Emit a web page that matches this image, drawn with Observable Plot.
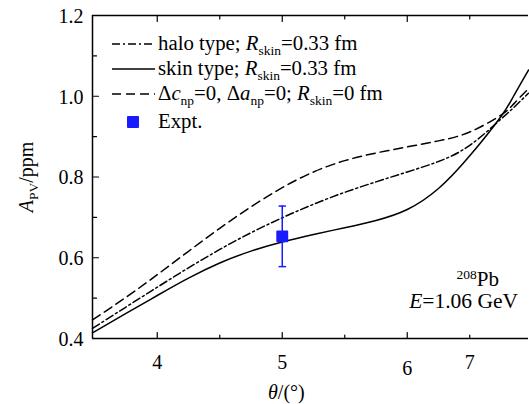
<!DOCTYPE html>
<html><head><meta charset="utf-8">
<script src="https://cdn.jsdelivr.net/npm/d3@7"></script>
<script src="https://cdn.jsdelivr.net/npm/@observablehq/plot@0.6"></script>
<style>body{margin:0;background:#fff}#chart{width:529px;height:404px}</style>
</head><body><div id="chart"></div>
<script>
// ---- data ----
const theta  = [3.482, 3.75, 4.0, 4.25, 4.5, 4.75, 5.0, 5.25, 5.5, 5.75, 6.0, 6.25, 6.5, 6.75, 6.85, 6.97];
const skin   = [0.414, 0.462, 0.5065, 0.5495, 0.587, 0.6165, 0.639, 0.6575, 0.6745, 0.6925, 0.7195, 0.7715, 0.8525, 0.950, 1.000, 1.065];
const halo   = [0.425, 0.478, 0.527, 0.575, 0.6205, 0.662, 0.699, 0.7325, 0.762, 0.788, 0.8125, 0.8385, 0.8785, 0.9435, 0.9715, 1.0075];
const noSkin = [0.446, 0.502, 0.558, 0.616, 0.673, 0.726, 0.7735, 0.8125, 0.8405, 0.8595, 0.8745, 0.8895, 0.9115, 0.9535, 0.9805, 1.019];
const exptTheta = [5.0];
const exptValue = [0.653];
const exptError = [0.075];
const xDomain = [3.482, 6.97];
const yDomain = [0.4, 1.2];
const xMajor = [4, 5, 6];
const xMinor = [4.5, 5.5, 6.5];
const xTickPos = [4, 5, 6, 6.5];
const xTickLabels = ["4", "5", "6", "7"];
const yMajor = [0.4, 0.6, 0.8, 1.0, 1.2];
const yMinor = [0.5, 0.7, 0.9, 1.1];
const legendLabels = [
  "halo type; <i>R</i><sub>skin</sub>=0.33 fm",
  "skin type; <i>R</i><sub>skin</sub>=0.33 fm",
  "Δ<i>c</i><sub>np</sub>=0, Δ<i>a</i><sub>np</sub>=0; <i>R</i><sub>skin</sub>=0 fm",
  "Expt."
];
const yTitle = "<i>A</i><sub>PV</sub>/ppm";
const xTitle = "<i>θ</i>/(°)";
const note1 = "<sup>208</sup>Pb";
const note2 = "<i>E</i>=1.06 GeV";

// ---- tables ----
const series = [
  {key: "halo", values: halo, dash: "8,3,2,3"},
  {key: "skin", values: skin, dash: null},
  {key: "noskin", values: noSkin, dash: "9,5"}
];
const rows = series.flatMap(s => theta.map((t, i) => ({theta: t, value: s.values[i], series: s.key})));
const expt = exptTheta.map((t, i) => ({theta: t, value: exptValue[i], err: exptError[i]}));
const xTicks = xTickPos.map((x, i) => ({x, label: xTickLabels[i]}));

const tickShape = {draw(ctx, l) { ctx.moveTo(0, 0); ctx.lineTo(0, -l); }};
const capSymbol = {draw(ctx) { ctx.moveTo(-3.7, 0); ctx.lineTo(3.7, 0); }};
const FONT = "'Liberation Serif', 'Times New Roman', serif";
const BLUE = "#1a1aff";

const lineMarks = series.map(s => Plot.line(rows.filter(r => r.series === s.key), {
  x: "theta", y: "value", curve: "natural", stroke: "black", strokeWidth: 1.5,
  strokeDasharray: s.dash || undefined
}));

const plot = Plot.plot({
  width: 529, height: 404,
  marginLeft: 92, marginRight: 1, marginTop: 15, marginBottom: 66,
  x: {domain: xDomain, axis: null},
  y: {domain: yDomain, axis: null},
  style: {fontFamily: FONT, fontSize: "20px", background: "white", color: "black"},
  marks: [
    ...lineMarks,
    Plot.ruleX(expt, {x: "theta", y1: d => d.value - d.err, y2: d => d.value + d.err, stroke: BLUE, strokeWidth: 1.5}),
    Plot.dot(expt, {x: "theta", y: d => d.value - d.err, symbol: capSymbol, stroke: BLUE, strokeWidth: 1.5}),
    Plot.dot(expt, {x: "theta", y: d => d.value + d.err, symbol: capSymbol, stroke: BLUE, strokeWidth: 1.5}),
    Plot.dot(expt, {x: "theta", y: "value", symbol: "square", r: 5.6, fill: BLUE, stroke: BLUE, strokeWidth: 2, strokeLinejoin: "round"}),
    // frame
    Plot.ruleX([xDomain[0]], {stroke: "black", strokeWidth: 1.5}),
    Plot.ruleY([yDomain[0], yDomain[1]], {stroke: "black", strokeWidth: 1.5}),
    // ticks (inward)
    Plot.vector(xMajor, {x: d => d, y: yDomain[0], length: 6, rotate: 0, anchor: "start", shape: tickShape, stroke: "black", strokeWidth: 1.2}),
    Plot.vector(xMinor, {x: d => d, y: yDomain[0], length: 3.5, rotate: 0, anchor: "start", shape: tickShape, stroke: "black", strokeWidth: 1.2}),
    Plot.vector(xMajor, {x: d => d, y: yDomain[1], length: 6, rotate: 180, anchor: "start", shape: tickShape, stroke: "black", strokeWidth: 1.2}),
    Plot.vector(xMinor, {x: d => d, y: yDomain[1], length: 3.5, rotate: 180, anchor: "start", shape: tickShape, stroke: "black", strokeWidth: 1.2}),
    Plot.vector(yMajor, {x: xDomain[0], y: d => d, length: 6, rotate: 90, anchor: "start", shape: tickShape, stroke: "black", strokeWidth: 1.2}),
    Plot.vector(yMinor, {x: xDomain[0], y: d => d, length: 4, rotate: 90, anchor: "start", shape: tickShape, stroke: "black", strokeWidth: 1.2}),
    // tick labels
    Plot.text(yMajor, {x: xDomain[0], y: d => d, text: d => d.toFixed(1), textAnchor: "end", dx: -9, dy: 1, fill: "black"}),
    Plot.text(xTicks.filter(d => d.label !== "6"), {x: "x", y: yDomain[0], text: "label", dy: 24, fill: "black"}),
    Plot.text(xTicks.filter(d => d.label === "6"), {x: "x", y: yDomain[0], text: "label", dy: 30, fill: "black"})
  ]
});
document.getElementById("chart").appendChild(plot);

// ---- rich text helper ----
function rich(sel, markup, small = 13.5, shift = 5) {
  const parts = markup.split(/(<\/?(?:i|sub|sup)>)/).filter(s => s);
  let italic = false, mode = null, cur = 0;
  for (const p of parts) {
    if (p === "<i>") italic = true;
    else if (p === "</i>") italic = false;
    else if (p === "<sub>") mode = "sub";
    else if (p === "<sup>") mode = "sup";
    else if (p === "</sub>" || p === "</sup>") mode = null;
    else {
      const target = mode === "sub" ? shift : mode === "sup" ? -1.4 * shift : 0;
      const t = sel.append("tspan").text(p);
      if (target !== cur) t.attr("dy", target - cur);
      cur = target;
      if (italic) t.attr("font-style", "italic");
      if (mode) t.attr("font-size", small);
    }
  }
  return sel;
}
const svg = d3.select(plot);
const g = svg.append("g").attr("font-family", FONT).attr("font-size", 20).attr("fill", "black");
function addText(x, y, markup, anchor = "start", rotate = 0, size = 20) {
  const t = g.append("text").attr("text-anchor", anchor).attr("font-size", size)
    .attr("transform", `translate(${x},${y})` + (rotate ? ` rotate(${rotate})` : ""));
  rich(t, markup);
  return t;
}
// axis titles
addText(33, 177, yTitle, "middle", -90);
addText(268, 399, xTitle, "start");
// annotation
addText(499, 286, note1, "end", 0, 21);
addText(518, 308, note2, "end", 0, 21.5);
// legend
const legBase = [50, 75, 100, 128];
legendLabels.forEach((lab, i) => addText(158, legBase[i], lab, "start", 0, 20.8));
series.forEach((s, i) => {
  g.append("line").attr("x1", 112).attr("x2", 155)
    .attr("y1", legBase[i] - 6).attr("y2", legBase[i] - 6)
    .attr("stroke", "black").attr("stroke-width", 1.5)
    .attr("stroke-dasharray", s.dash);
});
g.append("rect").attr("x", 128).attr("y", legBase[3] - 11).attr("width", 10).attr("height", 10)
  .attr("fill", BLUE).attr("stroke", BLUE).attr("stroke-width", 2).attr("stroke-linejoin", "round");
</script></body></html>
